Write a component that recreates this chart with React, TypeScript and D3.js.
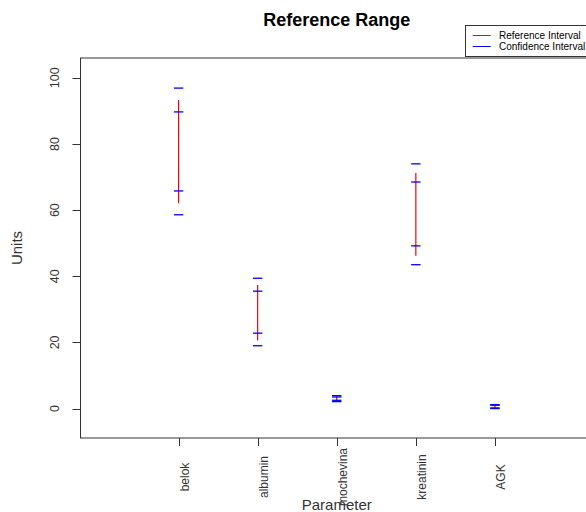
import React from 'react';
import * as d3 from 'd3';

// reference interval per parameter, plus confidence intervals of each limit
const params = ['belok', 'albumin', 'mochevina', 'kreatinin', 'AGK'];
const refLow = [62.1, 20.6, 2.3, 46.2, 0.1];
const refHigh = [93.3, 37.4, 3.7, 71.2, 1.1];
const lowCiLower = [58.6, 19.0, 2.1, 43.5, 0.0];
const lowCiUpper = [65.8, 22.8, 2.5, 49.2, 0.2];
const highCiLower = [89.7, 35.5, 3.5, 68.5, 1.0];
const highCiUpper = [96.9, 39.4, 3.9, 74.0, 1.2];
const yTicks = [0, 20, 40, 60, 80, 100];

const W = 586;
const H = 512;
const font = '"Liberation Sans", Arial, sans-serif';

const App = () => {
  const x = d3.scaleLinear().domain([-0.24, 6.24]).range([80.5, 593]);
  const y = d3.scaleLinear().domain([-8.9, 106]).range([438, 58]);
  const [x0, x1] = x.range();
  const [yb, yt] = y.range();
  const cap = 4.7;

  const caps = params.flatMap((p, i) => [
    { i, v: lowCiLower[i] },
    { i, v: lowCiUpper[i] },
    { i, v: highCiLower[i] },
    { i, v: highCiUpper[i] },
  ]);

  return (
    <svg width={W} height={H} style={{ position: 'absolute', left: 0, top: 0, background: '#fff' }} fontFamily={font}>
      <text x={(x0 + x1) / 2} y={26} textAnchor="middle" fontSize={18} fontWeight="bold" fill="#000">
        Reference Range
      </text>

      {/* plot box */}
      <rect x={x0} y={yt} width={x1 - x0} height={yb - yt} fill="none" stroke="#333" strokeWidth={1} />

      {/* y axis */}
      {yTicks.map(t => (
        <g key={t}>
          <line x1={x0 - 8} x2={x0} y1={Math.round(y(t)) + 0.5} y2={Math.round(y(t)) + 0.5} stroke="#333" />
          <text
            transform={`translate(${x0 - 22},${y(t)}) rotate(-90)`}
            textAnchor="middle"
            fontSize={12.5}
            fill="#333"
          >
            {t}
          </text>
        </g>
      ))}
      <line x1={x0} x2={x0} y1={y(0)} y2={y(100)} stroke="#333" />

      {/* x axis */}
      {params.map((p, i) => (
        <g key={p}>
          <line x1={Math.round(x(i + 1)) + 0.5} x2={Math.round(x(i + 1)) + 0.5} y1={yb} y2={yb + 8} stroke="#333" />
          <text
            transform={`translate(${x(i + 1) + 6},477) rotate(-90)`}
            textAnchor="middle"
            dominantBaseline="central"
            fontSize={12}
            fill="#333"
          >
            {p}
          </text>
        </g>
      ))}

      <text x={(x0 + x1) / 2} y={510} textAnchor="middle" fontSize={15} fill="#333">
        Parameter
      </text>
      <text transform={`translate(22,${(yt + yb) / 2}) rotate(-90)`} textAnchor="middle" fontSize={15} fill="#333">
        Units
      </text>

      {/* reference intervals */}
      {params.map((p, i) => (
        <line key={p} x1={x(i + 1)} x2={x(i + 1)} y1={y(refLow[i])} y2={y(refHigh[i])} stroke="#ff0000" strokeWidth={1.2} />
      ))}

      {/* confidence interval ends */}
      {caps.map((c, k) => (
        <line
          key={k}
          x1={x(c.i + 1) - cap}
          x2={x(c.i + 1) + cap}
          y1={y(c.v)}
          y2={y(c.v)}
          stroke="#0000ff"
          strokeWidth={1.3}
        />
      ))}

      {/* legend */}
      <g>
        <rect x={465.5} y={25.5} width={130} height={31} fill="#fff" stroke="#333" strokeWidth={1} />
        <line x1={472.7} x2={490.7} y1={35.5} y2={35.5} stroke="#ff0000" />
        <line x1={472.7} x2={490.7} y1={46.5} y2={46.5} stroke="#0000ff" />
        <text x={499} y={39} fontSize={10} fill="#000">Reference Interval</text>
        <text x={499} y={50} fontSize={10} fill="#000">Confidence Interval</text>
      </g>
    </svg>
  );
};

export default App;
